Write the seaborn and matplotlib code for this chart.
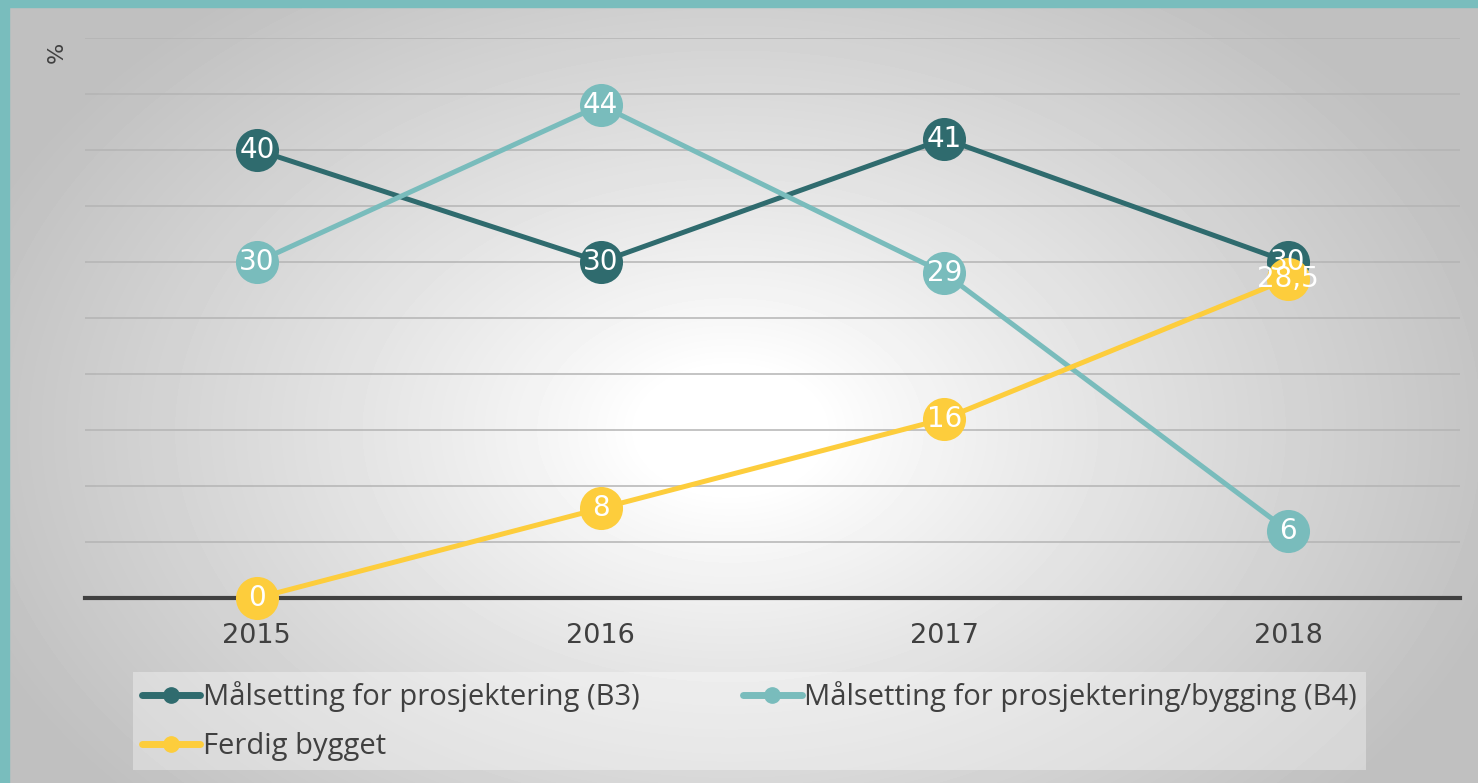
import numpy as np
import pandas as pd
import seaborn as sns
import matplotlib.pyplot as plt
from matplotlib.patches import Rectangle
from matplotlib.lines import Line2D

years = ["2015", "2016", "2017", "2018"]
b3 = [40, 30, 41, 30]
b4 = [30, 44, 29, 6]
ferdig = [0, 8, 16, 28.5]
labels_b3 = ["40", "30", "41", "30"]
labels_b4 = ["30", "44", "29", "6"]
labels_ferdig = ["0", "8", "16", "28,5"]

series = ["Målsetting for prosjektering (B3)",
          "Målsetting for prosjektering/bygging (B4)",
          "Ferdig bygget"]
colors = ["#2f6b6e", "#79bcbc", "#fdcd3c"]

df = pd.DataFrame({
    "year": years * 3,
    "value": b3 + b4 + ferdig,
    "serie": [series[0]] * 4 + [series[1]] * 4 + [series[2]] * 4,
})

sns.set_style("white")
plt.rcParams['font.family'] = ['DejaVu Sans']

W, H = 1478, 783
fig = plt.figure(figsize=(W / 100, H / 100), dpi=100)

# radial grey background
bg = fig.add_axes([0, 0, 1, 1], zorder=-10)
yy, xx = np.mgrid[0:H, 0:W]
r = np.sqrt(((xx - 730) / 760.0) ** 2 + ((yy - 430) / 520.0) ** 2)
val = 1 - 0.25 * np.clip((r - 0.12) / 0.95, 0, 1) ** 0.9
bg.imshow(val, cmap="gray", vmin=0, vmax=1, aspect="auto", interpolation="bilinear")
bg.axis("off")

ax = fig.add_axes([85 / W, 1 - 598 / H, (1460 - 85) / W, (598 - 38) / H])
ax.patch.set_alpha(0)

sns.lineplot(data=df, x="year", y="value", hue="serie", palette=colors,
             marker="o", markersize=31, markeredgewidth=0, linewidth=3.6,
             legend=False, ax=ax, sort=False)
for ln in ax.lines:
    ln.set_clip_on(False)
    ln.set_zorder(3)

for vals, labs in [(b3, labels_b3), (b4, labels_b4), (ferdig, labels_ferdig)]:
    for i, (v, t) in enumerate(zip(vals, labs)):
        ax.text(i, v, t, color="white", fontsize=20, ha="center", va="center", zorder=10)

ax.set_xlim(-0.5, 3.5)
ax.set_ylim(0, 50)
ax.set_yticks(np.arange(5, 55, 5))
ax.set_yticklabels([])
ax.grid(axis="y", color="#b4b4b4", linewidth=1.1)
ax.set_axisbelow(True)
for s in ["left", "right", "top"]:
    ax.spines[s].set_visible(False)
ax.spines["bottom"].set_color("#404040")
ax.spines["bottom"].set_linewidth(3)
ax.spines["bottom"].set_zorder(1)
ax.tick_params(axis="both", length=0)
ax.tick_params(axis="x", labelsize=19.5, labelcolor="#404040", pad=18)
ax.set_xlabel("")
ax.set_ylabel("")

fig.text(57 / W, 1 - 52 / H, "%", rotation=90, fontsize=16, color="#404040",
         ha="center", va="center")

handles = [Line2D([], [], color=c, linewidth=5, marker="o", markersize=11) for c in colors]
order = [0, 2, 1]
leg = fig.legend([handles[i] for i in order], [series[i] for i in order],
                 ncol=2, mode="expand", loc="lower left",
                 bbox_to_anchor=(133 / W, 1 - 770 / H, (1366 - 133) / W, 100 / H),
                 bbox_transform=fig.transFigure, borderaxespad=0,
                 prop={"family": ["Open Sans"], "size": 21},
                 handlelength=2.0, handletextpad=0.1,
                 labelspacing=0.7, borderpad=0.3, frameon=True, fancybox=False,
                 facecolor="white", edgecolor="none", framealpha=0.35)
for t in leg.get_texts():
    t.set_color("#404040")

fig.patches.append(Rectangle((0, 1 - 7 / H), 1, 7 / H, transform=fig.transFigure,
                             color="#79bdbd", zorder=20))
fig.patches.append(Rectangle((0, 0), 9 / W, 1, transform=fig.transFigure,
                             color="#79bdbd", zorder=20))

fig.savefig("out.png", dpi=100)
